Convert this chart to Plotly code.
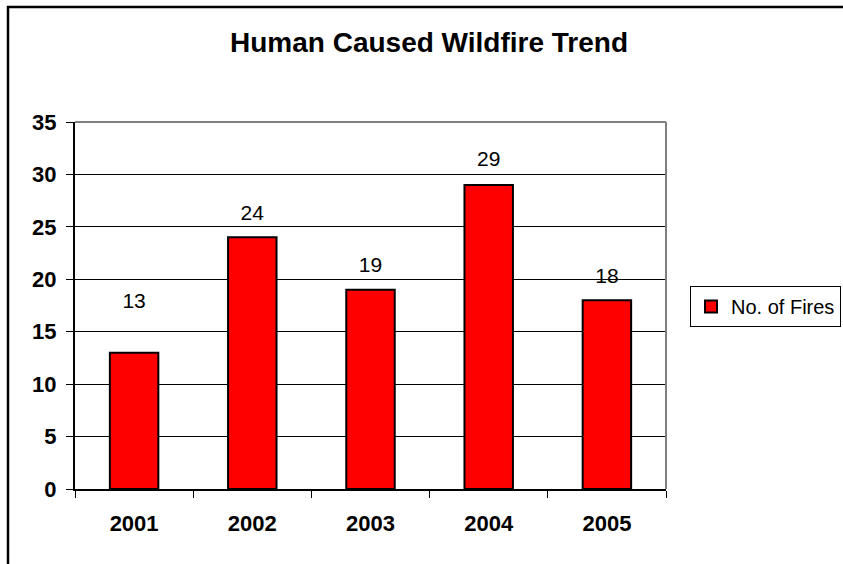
import plotly.graph_objects as go

years = ["2001", "2002", "2003", "2004", "2005"]
fires = [13, 24, 19, 29, 18]
series_name = "No. of Fires"
title_text = "Human Caused Wildfire Trend"
y_ticks = [0, 5, 10, 15, 20, 25, 30, 35]

# spacing (px) of each data label above its bar (style only)
label_lift = [18, 18, 18, 20, 18]
label_lift[0] = 62

FONT = "Liberation Sans, Arial, sans-serif"

W, H = 843, 564
L, T, B = 75, 122, 75
PLOT_RIGHT = 666
R = W - PLOT_RIGHT
pw, ph = W - L - R, H - T - B


def px(x):
    return (x - L) / pw


def py(y):
    return (H - B - y) / ph


fig = go.Figure()
fig.add_trace(go.Bar(
    x=years, y=fires, name=series_name,
    marker=dict(color="#FF0000", line=dict(color="black", width=2)),
    width=0.41,
    showlegend=True,
    hoverinfo="x+y",
))

# data labels: invisible markers whose size sets the text offset above the bar
fig.add_trace(go.Scatter(
    x=years, y=fires, mode="markers+text",
    text=[str(v) for v in fires], textposition="top center",
    textfont=dict(family=FONT, size=21, color="black"),
    marker=dict(size=label_lift, opacity=0, color="white"),
    showlegend=False, hoverinfo="skip", cliponaxis=False,
))

fig.update_layout(
    width=W, height=H,
    margin=dict(l=L, r=R, t=T, b=B, pad=0, autoexpand=False),
    paper_bgcolor="white", plot_bgcolor="white",
    title=dict(text="<b>" + title_text + "</b>", x=429 / W, xanchor="center",
               y=1 - 42 / H, yanchor="middle",
               font=dict(family=FONT, size=28, color="black")),
    xaxis=dict(type="category", range=[-0.5, 4.5], tickson="boundaries",
               showgrid=False, showline=True, linecolor="black", linewidth=2,
               ticks="outside", ticklen=7, tickcolor="black", tickwidth=1,
               tickfont=dict(family=FONT, size=22, color="black", weight="bold"),
               ticklabelstandoff=14, zeroline=False, fixedrange=True),
    yaxis=dict(range=[0, 35], tickvals=y_ticks, showgrid=True, gridcolor="black",
               gridwidth=1, showline=True, linecolor="black", linewidth=2,
               ticks="outside", ticklen=7, tickcolor="black", tickwidth=1,
               tickfont=dict(family=FONT, size=22, color="black", weight="bold"),
               ticklabelstandoff=5, zeroline=False, fixedrange=True),
    legend=dict(x=px(690), y=py(286), xanchor="left", yanchor="top",
                bordercolor="black", borderwidth=1, bgcolor="white",
                font=dict(family=FONT, size=20, color="black"),
                itemwidth=30, tracegroupgap=0),
    shapes=[
        dict(type="rect", xref="paper", yref="paper", x0=px(8), x1=px(900),
             y0=py(620), y1=py(7), line=dict(color="black", width=2.5),
             fillcolor="rgba(0,0,0,0)", layer="above"),
        dict(type="line", xref="paper", yref="paper", x0=0, x1=1, y0=1, y1=1,
             line=dict(color="#808080", width=2)),
        dict(type="line", xref="paper", yref="paper", x0=1, x1=1, y0=0, y1=1,
             line=dict(color="#808080", width=2)),
    ],
)

fig.write_html("out.html")
